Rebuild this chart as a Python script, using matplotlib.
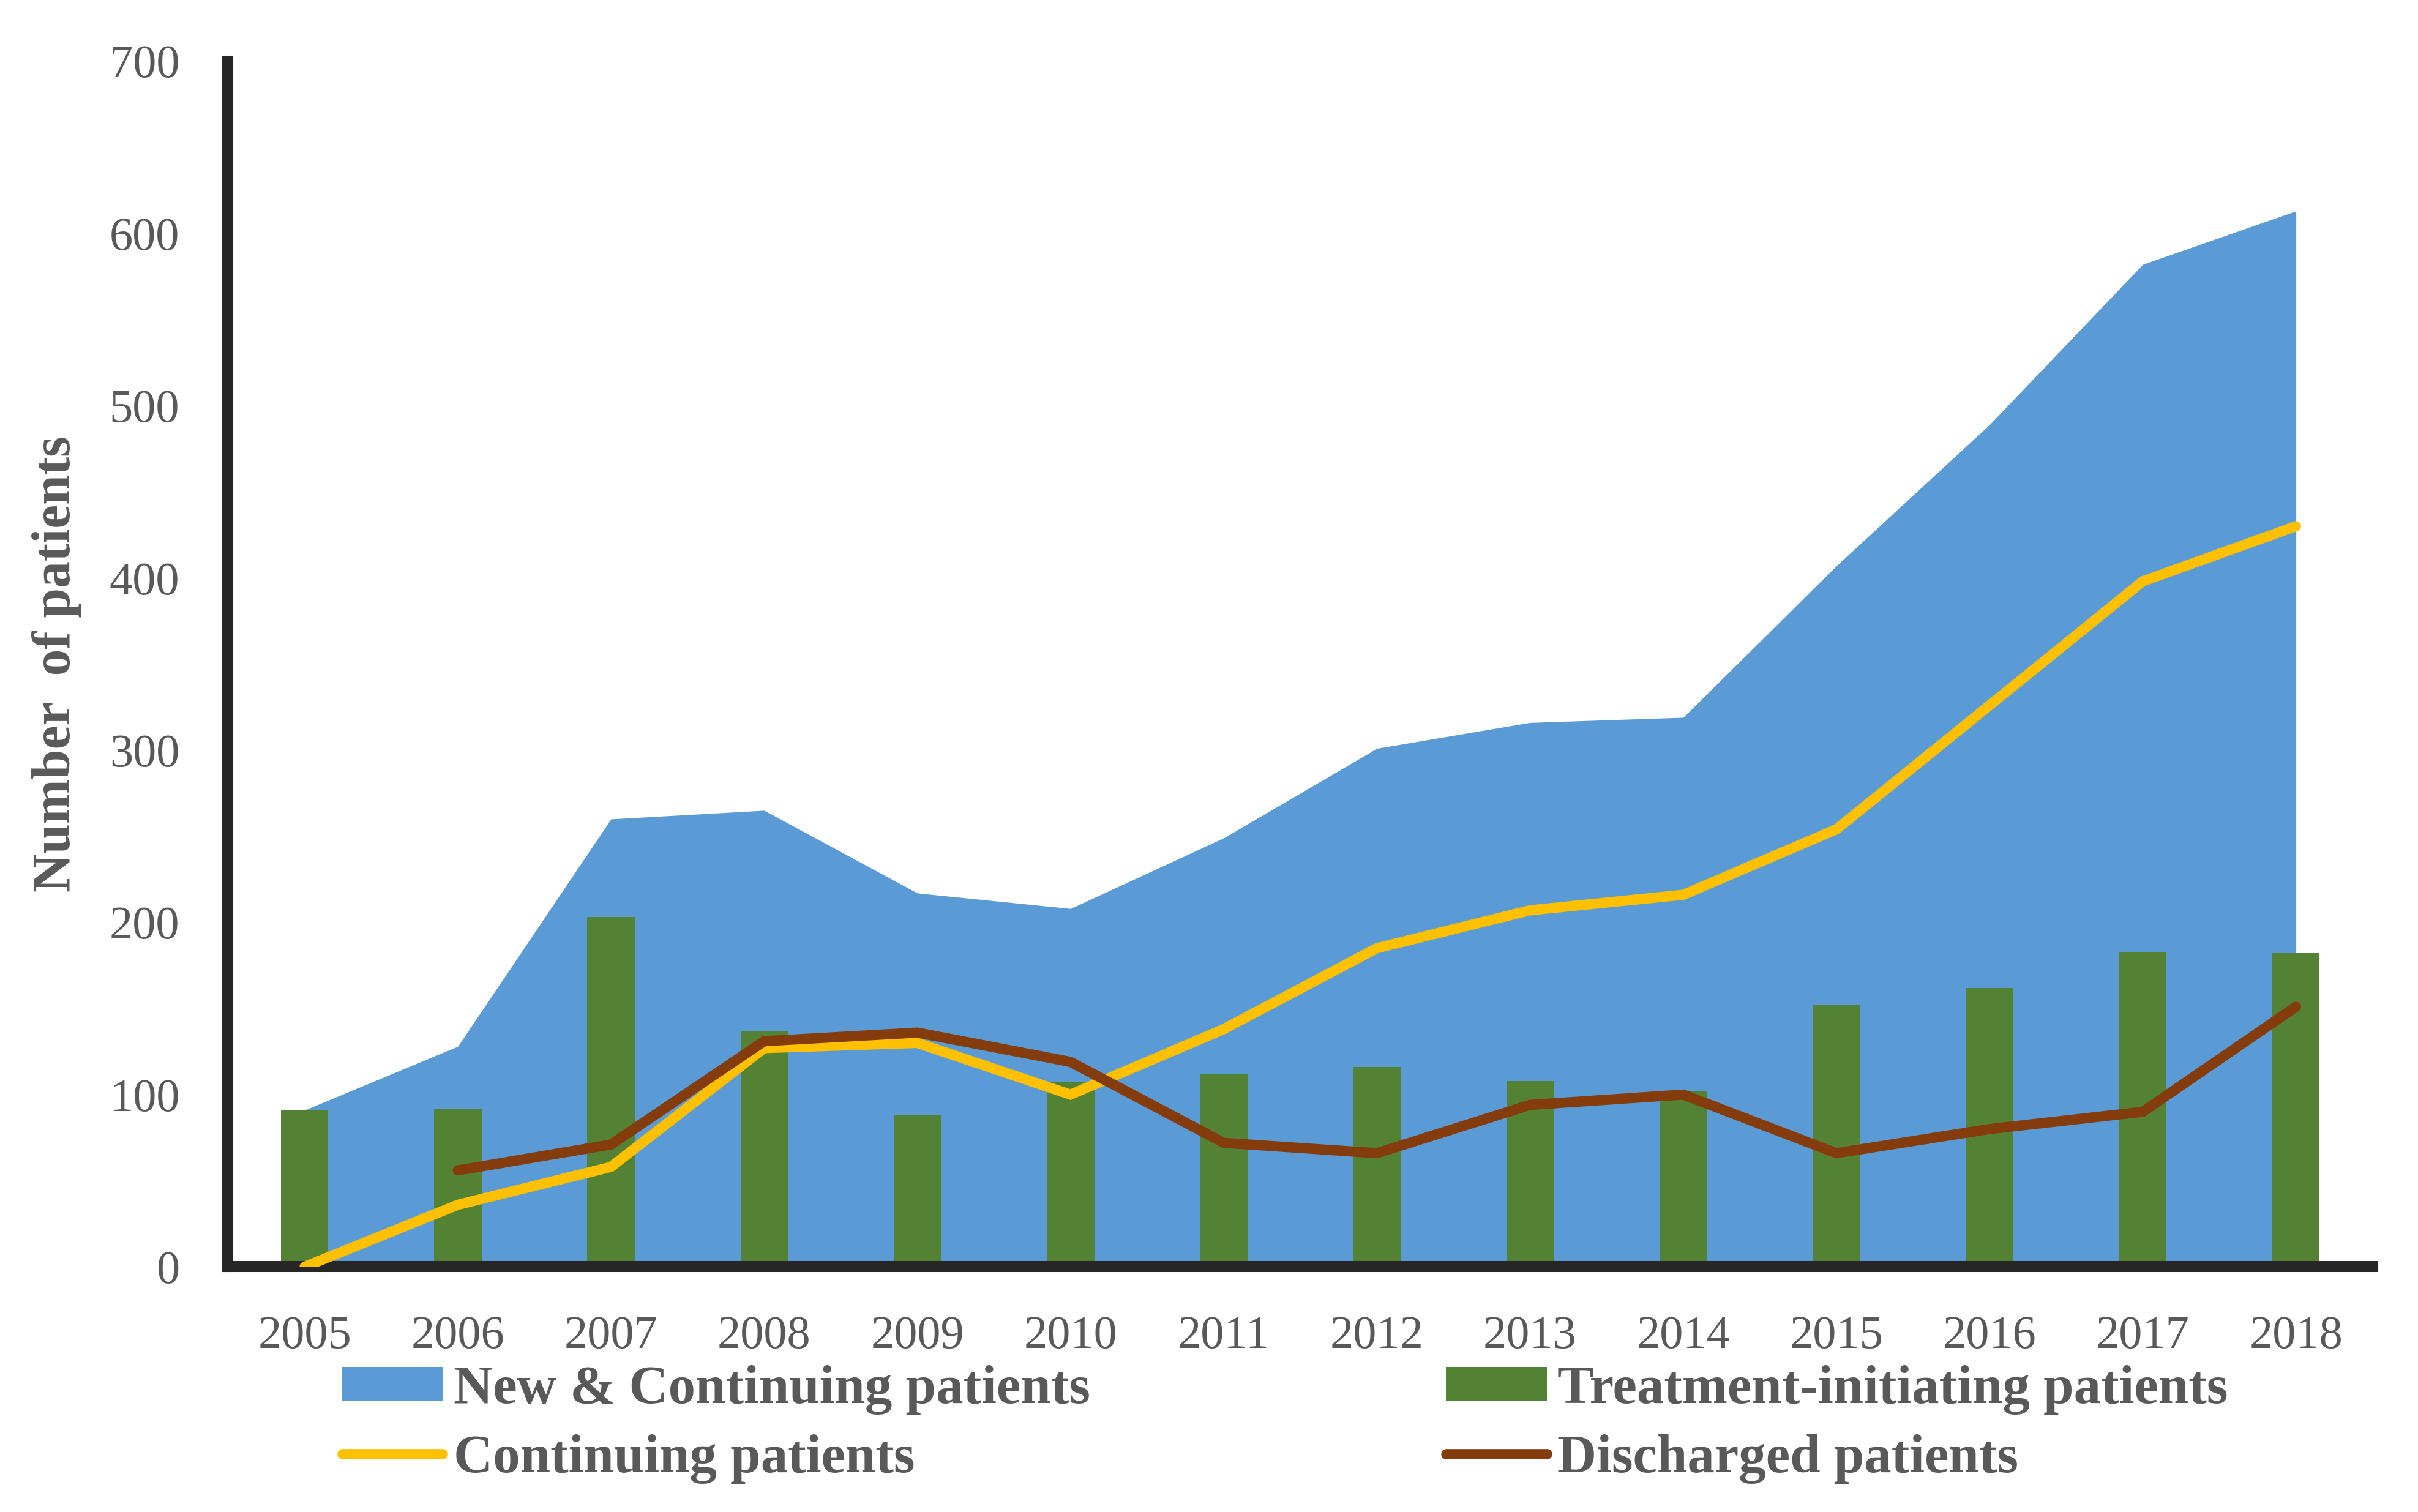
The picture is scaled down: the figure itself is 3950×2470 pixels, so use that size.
import numpy as np
import matplotlib
matplotlib.use("Agg")
import matplotlib.pyplot as plt

# ---- data ----
years = ["2005", "2006", "2007", "2008", "2009", "2010", "2011",
         "2012", "2013", "2014", "2015", "2016", "2017", "2018"]
new_continuing = [91, 128, 260, 265, 217, 208, 249, 301, 316, 319, 407, 489, 582, 613]
treatment_initiating = [91, 92, 203, 137, 88, 107, 112, 116, 108, 102, 152, 162, 183, 182]
continuing = [0, 36, 58, 127, 130, 100, 138, 185, 207, 216, 254, 326, 398, 430]
discharged = [np.nan, 56, 71, 131, 136, 119, 72, 66, 94, 100, 66, 80, 90, 151]
y_ticks = [0, 100, 200, 300, 400, 500, 600, 700]

# ---- style ----
BLUE = "#5B9BD5"
GREEN = "#548235"
YELLOW = "#FFC000"
BROWN = "#843C0C"
TEXT = "#595959"
AXIS = "#262626"

plt.rcParams["font.family"] = ["Liberation Serif", "DejaVu Serif"]

fig = plt.figure(figsize=(39.5, 24.7), dpi=100)
ax = fig.add_axes([0.0943, 0.16215, 0.8869, 0.7974])

x = np.arange(len(years))

area = ax.fill_between(x, 0, new_continuing, color=BLUE, linewidth=0,
                       zorder=1, label="New & Continuing patients")
bars = ax.bar(x, treatment_initiating, width=0.31, color=GREEN, zorder=2,
              label="Treatment-initiating patients")
l_cont, = ax.plot(x, continuing, color=YELLOW, lw=12, zorder=7,
                  solid_capstyle="round", solid_joinstyle="miter",
                  label="Continuing patients")
l_dis, = ax.plot(x, discharged, color=BROWN, lw=12, zorder=8,
                 solid_capstyle="round", solid_joinstyle="miter",
                 label="Discharged patients")

ax.set_xlim(-0.5, len(years) - 0.5)
ax.set_ylim(0, 700)
ax.set_xticks(x)
ax.set_xticklabels(years)
ax.set_yticks(y_ticks)
ax.set_yticklabels([str(v) for v in y_ticks])
ax.tick_params(axis="both", length=0, pad=57, labelsize=55, labelcolor=TEXT)

for side in ["top", "right"]:
    ax.spines[side].set_visible(False)
for side in ["left", "bottom"]:
    ax.spines[side].set_linewidth(13)
    ax.spines[side].set_color(AXIS)
    ax.spines[side].set_zorder(6)

ylab = ax.set_ylabel("Number  of patients", fontsize=63, fontweight="bold",
                     color=TEXT, va="center")
ax.yaxis.set_label_coords(-0.0799, 0.5)

leg_kw = dict(loc="center left", frameon=False, borderpad=0, borderaxespad=0,
              handlelength=1.85, handleheight=0.58, handletextpad=0.2,
              labelspacing=0.36,
              prop={"size": 64, "weight": "bold"}, labelcolor=TEXT)
leg1 = fig.legend([area, l_cont], ["New & Continuing patients", "Continuing patients"],
                  bbox_to_anchor=(0.1415, 0.0579), **leg_kw)
leg2 = fig.legend([bars, l_dis], ["Treatment-initiating patients", "Discharged patients"],
                  bbox_to_anchor=(0.598, 0.0579), **leg_kw)

fig.savefig("out.png", dpi=100, facecolor="white")
